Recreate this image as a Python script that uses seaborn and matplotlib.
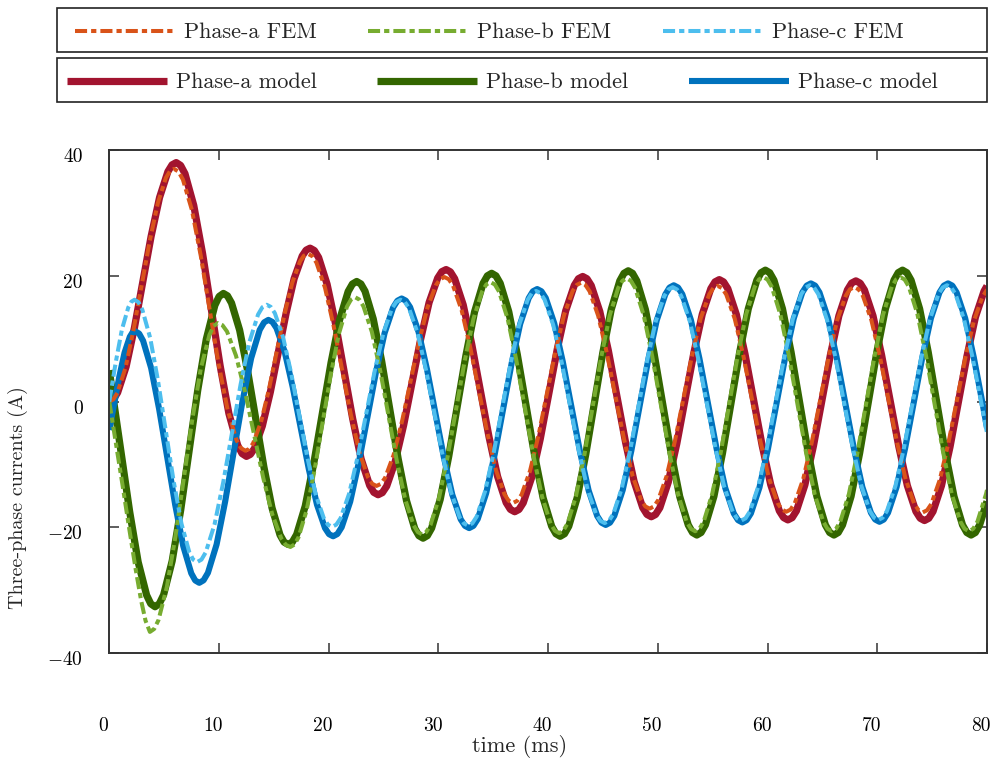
"""Three-phase currents: FEM results against the circuit model."""

import matplotlib

matplotlib.use("Agg")
import matplotlib.pyplot as plt
import matplotlib.transforms as mtransforms
import seaborn as sns
from matplotlib.patches import Rectangle

# ---- data (time in ms, current in A) ----
a_model_t = [
    0, 0.38, 0.76, 1.53, 2.29, 3.05, 3.81, 4.58, 5.34, 5.72,
    6.1, 6.5, 6.9, 7.7, 8.5, 9.3, 10.1, 10.9, 11.7, 12.1,
    12.5, 12.86, 13.23, 13.95, 14.68, 15.4, 16.13, 16.85, 17.58, 17.94,
    18.3, 18.69, 19.08, 19.85, 20.63, 21.4, 22.18, 22.95, 23.73, 24.11,
    24.5, 24.89, 25.28, 26.05, 26.83, 27.6, 28.38, 29.15, 29.93, 30.31,
    30.7, 31.09, 31.48, 32.26, 33.04, 33.83, 34.61, 35.39, 36.17, 36.56,
    36.95, 37.34, 37.73, 38.5, 39.28, 40.05, 40.83, 41.6, 42.38, 42.76,
    43.15, 43.54, 43.93, 44.71, 45.49, 46.28, 47.06, 47.84, 48.62, 49.01,
    49.4, 49.79, 50.18, 50.95, 51.73, 52.5, 53.28, 54.05, 54.83, 55.21,
    55.6, 55.99, 56.38, 57.16, 57.94, 58.73, 59.51, 60.29, 61.07, 61.46,
    61.85, 62.24, 62.63, 63.4, 64.18, 64.95, 65.73, 66.5, 67.28, 67.66,
    68.05, 68.44, 68.83, 69.61, 70.39, 71.18, 71.96, 72.74, 73.52, 73.91,
    74.3, 74.69, 75.08, 75.85, 76.63, 77.4, 78.18, 78.95, 79.73, 80.0,
]
a_model_i = [
    0.0, 0.37, 1.44, 5.55, 11.74, 19.0, 26.26, 32.45, 36.56, 37.64,
    38.0, 37.55, 36.23, 31.18, 23.57, 14.65, 5.73, -1.88, -6.93, -8.25,
    -8.7, -8.38, -7.44, -3.87, 1.53, 7.85, 14.17, 19.57, 23.14, 24.08,
    24.4, 24.02, 22.91, 18.68, 12.29, 4.8, -2.69, -9.08, -13.31, -14.42,
    -14.8, -14.46, -13.44, -9.57, -3.74, 3.1, 9.94, 15.77, 19.64, 20.66,
    21.0, 20.63, 19.54, 15.38, 9.1, 1.75, -5.6, -11.88, -16.04, -17.13,
    -17.5, -17.14, -16.08, -12.04, -5.94, 1.2, 8.34, 14.44, 18.48, 19.54,
    19.9, 19.53, 18.45, 14.32, 8.1, 0.8, -6.5, -12.72, -16.85, -17.93,
    -18.3, -17.94, -16.87, -12.8, -6.65, 0.55, 7.75, 13.9, 17.97, 19.04,
    19.4, 19.03, 17.95, 13.82, 7.6, 0.3, -7.0, -13.22, -17.35, -18.43,
    -18.8, -18.44, -17.36, -13.25, -7.06, 0.2, 7.46, 13.65, 17.76, 18.84,
    19.2, 18.83, 17.75, 13.64, 7.43, 0.15, -7.13, -13.34, -17.45, -18.53,
    -18.9, -18.54, -17.46, -13.37, -7.19, 0.05, 7.29, 13.47, 17.56, 18.39,
]

a_fem_t = [
    0, 0.37, 0.74, 1.48, 2.21, 2.95, 3.69, 4.43, 5.16, 5.53,
    5.9, 6.31, 6.71, 7.53, 8.34, 9.15, 9.96, 10.78, 11.59, 11.99,
    12.4, 12.76, 13.11, 13.83, 14.54, 15.25, 15.96, 16.68, 17.39, 17.74,
    18.1, 18.49, 18.88, 19.66, 20.44, 21.23, 22.01, 22.79, 23.57, 23.96,
    24.35, 24.74, 25.13, 25.9, 26.68, 27.45, 28.23, 29.0, 29.78, 30.16,
    30.55, 30.94, 31.33, 32.11, 32.89, 33.68, 34.46, 35.24, 36.02, 36.41,
    36.8, 37.19, 37.58, 38.35, 39.13, 39.9, 40.68, 41.45, 42.23, 42.61,
    43.0, 43.39, 43.78, 44.56, 45.34, 46.13, 46.91, 47.69, 48.47, 48.86,
    49.25, 49.64, 50.03, 50.8, 51.58, 52.35, 53.13, 53.9, 54.68, 55.06,
    55.45, 55.84, 56.23, 57.01, 57.79, 58.58, 59.36, 60.14, 60.92, 61.31,
    61.7, 62.09, 62.48, 63.25, 64.03, 64.8, 65.58, 66.35, 67.13, 67.51,
    67.9, 68.29, 68.68, 69.46, 70.24, 71.03, 71.81, 72.59, 73.37, 73.76,
    74.15, 74.54, 74.93, 75.7, 76.48, 77.25, 78.03, 78.8, 79.58, 79.96, 80.0,
]
a_fem_i = [
    0.0, 0.36, 1.41, 5.4, 11.43, 18.5, 25.57, 31.6, 35.59, 36.64,
    37.0, 36.57, 35.3, 30.46, 23.16, 14.6, 6.04, -1.26, -6.1, -7.37,
    -7.8, -7.5, -6.61, -3.23, 1.87, 7.85, 13.83, 18.93, 22.31, 23.2,
    23.5, 23.15, 22.1, 18.11, 12.1, 5.05, -2.0, -8.01, -12.0, -13.05,
    -13.4, -13.08, -12.14, -8.55, -3.14, 3.2, 9.54, 14.95, 18.54, 19.48,
    19.8, 19.46, 18.44, 14.56, 8.71, 1.85, -5.01, -10.86, -14.74, -15.76,
    -16.1, -15.76, -14.77, -10.99, -5.29, 1.4, 8.08, 13.79, 17.57, 18.56,
    18.9, 18.56, 17.54, 13.66, 7.81, 0.95, -5.91, -11.76, -15.64, -16.66,
    -17.0, -16.66, -15.65, -11.83, -6.06, 0.7, 7.46, 13.23, 17.05, 18.06,
    18.4, 18.06, 17.04, 13.16, 7.31, 0.45, -6.41, -12.26, -16.14, -17.16,
    -17.5, -17.16, -16.14, -12.29, -6.47, 0.35, 7.17, 12.99, 16.84, 17.86,
    18.2, 17.86, 16.84, 12.97, 7.14, 0.3, -6.54, -12.37, -16.24, -17.26,
    -17.6, -17.26, -16.25, -12.4, -6.6, 0.2, 7.0, 12.8, 16.65, 17.66, 17.72,
]

b_model_t = [
    0, 0.31, 1.09, 1.86, 2.63, 3.4, 3.78,
    4.17, 4.56, 4.95, 5.73, 6.51, 7.29, 8.06, 8.84, 9.62, 10.01,
    10.4, 10.77, 11.14, 11.88, 12.61, 13.35, 14.09, 14.83, 15.56, 15.93,
    16.3, 16.69, 17.08, 17.86, 18.64, 19.43, 20.21, 20.99, 21.77, 22.16,
    22.55, 22.93, 23.31, 24.06, 24.82, 25.58, 26.33, 27.09, 27.84, 28.22,
    28.6, 28.99, 29.38, 30.16, 30.94, 31.73, 32.51, 33.29, 34.07, 34.46,
    34.85, 35.24, 35.63, 36.41, 37.19, 37.98, 38.76, 39.54, 40.32, 40.71,
    41.1, 41.49, 41.88, 42.65, 43.43, 44.2, 44.98, 45.75, 46.53, 46.91,
    47.3, 47.69, 48.08, 48.86, 49.64, 50.43, 51.21, 51.99, 52.77, 53.16,
    53.55, 53.94, 54.33, 55.11, 55.89, 56.68, 57.46, 58.24, 59.02, 59.41,
    59.8, 60.19, 60.58, 61.36, 62.14, 62.93, 63.71, 64.49, 65.27, 65.66,
    66.05, 66.44, 66.83, 67.61, 68.39, 69.18, 69.96, 70.74, 71.52, 71.91,
    72.3, 72.69, 73.08, 73.86, 74.64, 75.43, 76.21, 76.99, 77.77, 78.16,
    78.55, 78.94, 79.33, 80.0,
]
b_model_i = [
    5.0, 1.12, -8.2, -17.52, -25.48, -30.75, -32.13,
    -32.6, -32.12, -30.71, -25.33, -17.21, -7.7, 1.81, 9.93, 15.31, 16.72,
    17.2, 16.82, 15.68, 11.37, 4.87, -2.75, -10.37, -16.87, -21.18, -22.32,
    -22.7, -22.3, -21.11, -16.6, -9.78, -1.8, 6.18, 13.0, 17.51, 18.7,
    19.1, 18.71, 17.55, 13.14, 6.49, -1.3, -9.09, -15.74, -20.15, -21.31,
    -21.7, -21.3, -20.1, -15.55, -8.69, -0.65, 7.39, 14.25, 18.8, 20.0,
    20.4, 20.0, 18.81, 14.3, 7.48, -0.5, -8.48, -15.3, -19.81, -21.0,
    -21.4, -21.0, -19.8, -15.24, -8.36, -0.3, 7.76, 14.64, 19.2, 20.4,
    20.8, 20.4, 19.2, 14.67, 7.82, -0.2, -8.22, -15.07, -19.6, -20.8,
    -21.2, -20.8, -19.6, -15.05, -8.19, -0.15, 7.89, 14.75, 19.3, 20.5,
    20.9, 20.5, 19.3, 14.75, 7.89, -0.15, -8.19, -15.05, -19.6, -20.8,
    -21.2, -20.8, -19.6, -15.05, -8.19, -0.15, 7.89, 14.75, 19.3, 20.5,
    20.9, 20.5, 19.3, 14.75, 7.89, -0.15, -8.19, -15.05, -19.6, -20.8,
    -21.2, -20.8, -19.6, -15.85,
]

b_fem_t = [
    0, 0.6, 1.2, 1.8, 2.4, 2.9, 3.3,
    3.7, 4.09, 4.48, 5.25, 6.03, 6.8, 7.58, 8.35, 9.13, 9.51,
    9.9, 10.31, 10.73, 11.55, 12.38, 13.2, 14.03, 14.85, 15.68, 16.09,
    16.5, 16.87, 17.24, 17.98, 18.71, 19.45, 20.19, 20.93, 21.66, 22.03,
    22.4, 22.78, 23.16, 23.93, 24.69, 25.45, 26.21, 26.98, 27.74, 28.12,
    28.5, 28.89, 29.28, 30.06, 30.84, 31.63, 32.41, 33.19, 33.97, 34.36,
    34.75, 35.14, 35.53, 36.31, 37.09, 37.88, 38.66, 39.44, 40.22, 40.61,
    41.0, 41.38, 41.77, 42.54, 43.31, 44.08, 44.84, 45.61, 46.38, 46.77,
    47.15, 47.54, 47.93, 48.71, 49.49, 50.28, 51.06, 51.84, 52.62, 53.01,
    53.4, 53.79, 54.18, 54.95, 55.73, 56.5, 57.28, 58.05, 58.83, 59.21,
    59.6, 59.99, 60.38, 61.16, 61.94, 62.73, 63.51, 64.29, 65.07, 65.46,
    65.85, 66.24, 66.63, 67.41, 68.19, 68.98, 69.76, 70.54, 71.32, 71.71,
    72.1, 72.49, 72.88, 73.66, 74.44, 75.23, 76.01, 76.79, 77.57, 77.96,
    78.35, 78.74, 79.13, 79.91, 80.0,
]
b_fem_i = [
    0.0, -6.6, -13.2, -20.0, -26.6, -31.6, -34.8,
    -36.6, -36.13, -34.73, -29.43, -21.43, -12.05, -2.67, 5.33, 10.63, 12.03,
    12.5, 12.16, 11.15, 7.3, 1.5, -5.3, -12.1, -17.9, -21.75, -22.76,
    -23.1, -22.72, -21.59, -17.3, -10.83, -3.25, 4.33, 10.8, 15.09, 16.22,
    16.6, 16.24, 15.17, 11.1, 4.95, -2.25, -9.45, -15.6, -19.67, -20.74,
    -21.1, -20.72, -19.58, -15.25, -8.71, -1.05, 6.61, 13.15, 17.48, 18.62,
    19.0, 18.62, 17.48, 13.17, 6.67, -0.95, -8.57, -15.07, -19.38, -20.52,
    -20.9, -20.51, -19.36, -14.99, -8.39, -0.65, 7.09, 13.69, 18.06, 19.21,
    19.6, 19.21, 18.07, 13.73, 7.18, -0.5, -8.18, -14.73, -19.07, -20.21,
    -20.6, -20.21, -19.06, -14.7, -8.12, -0.4, 7.32, 13.9, 18.26, 19.41,
    19.8, 19.41, 18.26, 13.9, 7.32, -0.4, -8.12, -14.7, -19.06, -20.21,
    -20.6, -20.21, -19.06, -14.7, -8.12, -0.4, 7.32, 13.9, 18.26, 19.41,
    19.8, 19.41, 18.26, 13.9, 7.32, -0.4, -8.12, -14.7, -19.06, -20.21,
    -20.6, -20.21, -19.06, -14.7, -14.04,
]

c_model_t = [
    0, 0.43, 0.91, 1.39, 1.87, 2.11,
    2.35, 2.72, 3.08, 3.81, 4.54, 5.28, 6.01, 6.74, 7.47, 7.83,
    8.2, 8.59, 8.99, 9.78, 10.56, 11.35, 12.14, 12.93, 13.71, 14.11,
    14.5, 14.87, 15.24, 15.98, 16.71, 17.45, 18.19, 18.93, 19.66, 20.03,
    20.4, 20.79, 21.18, 21.96, 22.74, 23.53, 24.31, 25.09, 25.87, 26.26,
    26.65, 27.03, 27.42, 28.19, 28.96, 29.73, 30.49, 31.26, 32.03, 32.42,
    32.8, 33.19, 33.58, 34.35, 35.13, 35.9, 36.68, 37.45, 38.23, 38.61,
    39.0, 39.39, 39.78, 40.56, 41.34, 42.13, 42.91, 43.69, 44.47, 44.86,
    45.25, 45.64, 46.03, 46.8, 47.58, 48.35, 49.13, 49.9, 50.68, 51.06,
    51.45, 51.84, 52.23, 53.01, 53.79, 54.58, 55.36, 56.14, 56.92, 57.31,
    57.7, 58.09, 58.48, 59.26, 60.04, 60.83, 61.61, 62.39, 63.17, 63.56,
    63.95, 64.34, 64.73, 65.51, 66.29, 67.08, 67.86, 68.64, 69.42, 69.81,
    70.2, 70.59, 70.98, 71.76, 72.54, 73.33, 74.11, 74.89, 75.67, 76.06,
    76.45, 76.84, 77.23, 78.01, 78.79, 79.58, 80.0,
]
c_model_i = [
    -4.5, -0.5, 3.97, 7.78, 10.31, 10.98,
    11.2, 10.82, 9.68, 5.36, -1.16, -8.8, -16.44, -22.96, -27.28, -28.42,
    -28.8, -28.4, -27.21, -22.7, -15.88, -7.9, 0.08, 6.9, 11.41, 12.6,
    13.0, 12.67, 11.69, 7.98, 2.37, -4.2, -10.77, -16.38, -20.09, -21.07,
    -21.4, -21.04, -19.96, -15.88, -9.72, -2.5, 4.72, 10.88, 14.96, 16.04,
    16.4, 16.05, 15.01, 11.07, 5.12, -1.85, -8.82, -14.77, -18.71, -19.75,
    -20.1, -19.74, -18.66, -14.55, -8.36, -1.1, 6.16, 12.35, 16.46, 17.54,
    17.9, 17.54, 16.48, 12.43, 6.31, -0.85, -8.01, -14.12, -18.17, -19.24,
    -19.6, -19.23, -18.15, -14.04, -7.83, -0.55, 6.73, 12.94, 17.05, 18.13,
    18.5, 18.14, 17.07, 13.0, 6.85, -0.35, -7.55, -13.7, -17.77, -18.84,
    -19.2, -18.84, -17.76, -13.65, -7.46, -0.2, 7.06, 13.25, 17.36, 18.44,
    18.8, 18.44, 17.36, 13.27, 7.09, -0.15, -7.39, -13.57, -17.66, -18.74,
    -19.1, -18.74, -17.66, -13.57, -7.39, -0.15, 7.09, 13.27, 17.36, 18.44,
    18.8, 18.44, 17.36, 13.27, 7.09, -0.15, -4.17,
]

c_fem_t = [
    0, 0.58, 1.15, 1.73, 2.01,
    2.3, 2.66, 3.01, 3.73, 4.44, 5.15, 5.86, 6.58, 7.29, 7.64,
    8.0, 8.4, 8.79, 9.59, 10.38, 11.18, 11.97, 12.76, 13.56, 13.95,
    14.35, 14.72, 15.09, 15.84, 16.58, 17.33, 18.07, 18.81, 19.56, 19.93,
    20.3, 20.69, 21.08, 21.86, 22.64, 23.43, 24.21, 24.99, 25.77, 26.16,
    26.55, 26.93, 27.32, 28.09, 28.86, 29.63, 30.39, 31.16, 31.93, 32.32,
    32.7, 33.09, 33.48, 34.25, 35.03, 35.8, 36.58, 37.35, 38.13, 38.51,
    38.9, 39.29, 39.68, 40.46, 41.24, 42.03, 42.81, 43.59, 44.37, 44.76,
    45.15, 45.54, 45.93, 46.7, 47.48, 48.25, 49.03, 49.8, 50.58, 50.96,
    51.35, 51.74, 52.13, 52.91, 53.69, 54.48, 55.26, 56.04, 56.82, 57.21,
    57.6, 57.99, 58.38, 59.16, 59.94, 60.73, 61.51, 62.29, 63.07, 63.46,
    63.85, 64.24, 64.63, 65.41, 66.19, 66.98, 67.76, 68.54, 69.32, 69.71,
    70.1, 70.49, 70.88, 71.66, 72.44, 73.23, 74.01, 74.79, 75.57, 75.96,
    76.35, 76.74, 77.13, 77.91, 78.69, 79.48, 80.0,
]
c_fem_i = [
    0.0, 6.19, 11.47, 14.97, 15.89,
    16.2, 15.8, 14.62, 10.11, 3.31, -4.65, -12.61, -19.41, -23.92, -25.1,
    -25.5, -25.11, -23.95, -19.53, -12.86, -5.05, 2.76, 9.43, 13.85, 15.01,
    15.4, 15.06, 14.06, 10.25, 4.49, -2.25, -8.99, -14.75, -18.56, -19.56,
    -19.9, -19.55, -18.53, -14.63, -8.75, -1.85, 5.05, 10.93, 14.83, 15.85,
    16.2, 15.86, 14.84, 10.96, 5.11, -1.75, -8.61, -14.46, -18.34, -19.36,
    -19.7, -19.34, -18.28, -14.25, -8.17, -1.05, 6.07, 12.15, 16.18, 17.24,
    17.6, 17.25, 16.2, 12.21, 6.2, -0.85, -7.9, -13.91, -17.9, -18.95,
    -19.3, -18.94, -17.88, -13.83, -7.71, -0.55, 6.61, 12.72, 16.77, 17.84,
    18.2, 17.84, 16.79, 12.78, 6.74, -0.35, -7.44, -13.48, -17.49, -18.54,
    -18.9, -18.54, -17.48, -13.44, -7.34, -0.2, 6.94, 13.04, 17.08, 18.14,
    18.5, 18.14, 17.08, 13.05, 6.97, -0.15, -7.27, -13.35, -17.38, -18.44,
    -18.8, -18.44, -17.38, -13.35, -7.27, -0.15, 6.97, 13.05, 17.08, 18.14,
    18.5, 18.14, 17.08, 13.05, 6.97, -0.15, -5.0,
]

x_ticks = [0, 10, 20, 30, 40, 50, 60, 70, 80]
y_ticks = [40, 20, 0, -20, -40]
y_tick_labels = ["40", "20", "0", "$-20$", "$-40$"]

fem_labels = ["Phase-a FEM", "Phase-b FEM", "Phase-c FEM"]
model_labels = ["Phase-a model", "Phase-b model", "Phase-c model"]

FEM_COLORS = ["#D95319", "#77AC30", "#4DBEEE"]
MODEL_COLORS = ["#A2142F", "#336600", "#0072BD"]
MODEL_WIDTHS = [5.2, 5.2, 4.4]
FEM_DASH = (0, (3.0, 1.0, 1.3, 1.0))
FRAME_COLOR = "#333333"
W, H = 995, 760


def setup_style() -> None:
    sns.set_style("ticks")
    plt.rcParams["font.family"] = "serif"
    plt.rcParams["font.serif"] = ["cmr10", "DejaVu Serif"]
    plt.rcParams["mathtext.fontset"] = "cm"
    plt.rcParams["axes.unicode_minus"] = False
    plt.rcParams["axes.formatter.use_mathtext"] = True


def draw_lines(ax):
    model_series = [(a_model_t, a_model_i), (b_model_t, b_model_i), (c_model_t, c_model_i)]
    fem_series = [(a_fem_t, a_fem_i), (b_fem_t, b_fem_i), (c_fem_t, c_fem_i)]

    model_handles = []
    for (t, i), color, lw, label in zip(model_series, MODEL_COLORS, MODEL_WIDTHS, model_labels):
        sns.lineplot(x=t, y=i, ax=ax, color=color, linewidth=lw, estimator=None,
                     sort=False, legend=False, solid_capstyle="butt")
        line = ax.lines[-1]
        line.set_label(label)
        model_handles.append(line)

    fem_handles = []
    for (t, i), color, label in zip(fem_series, FEM_COLORS, fem_labels):
        sns.lineplot(x=t, y=i, ax=ax, color=color, linewidth=2.9, estimator=None,
                     sort=False, legend=False, linestyle=FEM_DASH, dash_capstyle="butt")
        line = ax.lines[-1]
        line.set_label(label)
        fem_handles.append(line)
    return fem_handles, model_handles


def add_legends(fig, fem_handles, model_handles) -> None:
    # two framed rows spanning the full width, as in the reference
    rows = [
        (fem_handles, fem_labels, 8, 52, 75, 2.32),
        (model_handles, model_labels, 58, 102, 67, 2.72),
    ]
    for handles, labels, top, bottom, x_start, colspace in rows:
        fig.add_artist(Rectangle((57 / W, 1 - bottom / H), 930 / W, (bottom - top) / H,
                                 transform=fig.transFigure, fill=False,
                                 edgecolor="#222222", linewidth=1.2))
        fig.legend(handles, labels, loc="center left",
                   bbox_to_anchor=(x_start / W, 1 - ((top + bottom) / 2 + 2.5) / H),
                   ncol=3, frameon=False, borderpad=0, borderaxespad=0,
                   handlelength=4.5, handletextpad=0.4, columnspacing=colspace,
                   fontsize=16)


def main() -> None:
    setup_style()
    fig = plt.figure(figsize=(W / 100, H / 100), dpi=100)
    ax = fig.add_axes([109.3 / W, 1 - 653.3 / H, 877.7 / W, 503.3 / H])

    fem_handles, model_handles = draw_lines(ax)

    ax.set_xlim(0, 80)
    ax.set_ylim(-40, 40)
    ax.set_xticks(x_ticks)
    ax.set_xticklabels([str(v) for v in x_ticks])
    ax.set_yticks(y_ticks)
    ax.set_yticklabels(y_tick_labels)
    ax.tick_params(direction="in", length=7, width=1.1, top=True, right=True,
                   color=FRAME_COLOR, labelsize=14, labelcolor="black")
    ax.tick_params(axis="x", pad=46)
    ax.tick_params(axis="y", pad=19)
    for spine in ax.spines.values():
        spine.set_visible(True)
        spine.set_color(FRAME_COLOR)
        spine.set_linewidth(1.4)

    # tick labels sit slightly off their ticks in the reference
    x_shift = mtransforms.ScaledTranslation(-6 / 100, 0, fig.dpi_scale_trans)
    y_shift = mtransforms.ScaledTranslation(0, -5 / 100, fig.dpi_scale_trans)
    for label in ax.get_xticklabels():
        label.set_transform(label.get_transform() + x_shift)
    for label in ax.get_yticklabels():
        label.set_transform(label.get_transform() + y_shift)

    ax.set_xlabel("time (ms)", fontsize=16)
    ax.set_ylabel("Three-phase currents (A)", fontsize=14.5)
    ax.xaxis.set_label_coords(0.467, -0.163)
    ax.yaxis.set_label_coords(-0.0926, 0.31)

    add_legends(fig, fem_handles, model_handles)
    fig.savefig("out.png", dpi=100)
    plt.close(fig)


if __name__ == "__main__":
    main()
